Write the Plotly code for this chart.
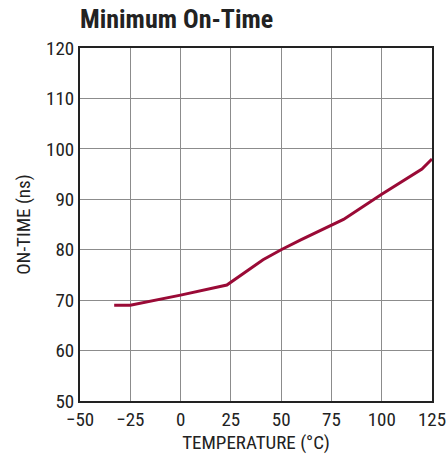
import plotly.graph_objects as go

# Minimum on-time vs temperature
temperature = [-33, -25, 0, 23, 41, 50, 60, 81, 100, 120, 125]
on_time = [69, 69, 71, 73, 78, 80, 82, 86, 91, 96, 98]

x_ticks = [-50, -25, 0, 25, 50, 75, 100, 125]
x_labels = ["\u221250", "\u221225", "0", "25", "50", "75", "100", "125"]
y_ticks = [50, 60, 70, 80, 90, 100, 110, 120]

FONT = "Liberation Sans Narrow, Arial Narrow, Roboto Condensed, sans-serif"

W, H = 446, 464

fig = go.Figure()
fig.add_trace(go.Scatter(
    x=temperature,
    y=on_time,
    mode="lines",
    line=dict(color="#9a0a36", width=3),
    showlegend=False,
    cliponaxis=False,
))

axis_common = dict(
    showgrid=True,
    gridcolor="#8c8c8c",
    gridwidth=1,
    showline=True,
    linecolor="#222222",
    linewidth=2,
    mirror=True,
    zeroline=False,
    ticks="",
    automargin=False,
    ticklabeloverflow="allow",
    tickfont=dict(family=FONT, size=19, color="#222222"),
)

fig.update_xaxes(
    range=[-50, 125],
    tickvals=x_ticks,
    ticktext=x_labels,
    title=dict(text="TEMPERATURE (\u00b0C)", font=dict(family=FONT, size=19, color="#222222"), standoff=6),
    **axis_common,
)
fig.update_yaxes(
    range=[50, 120],
    tickvals=y_ticks,
    title=dict(text="ON-TIME (ns)", font=dict(family=FONT, size=19, color="#222222"), standoff=10),
    **axis_common,
)

fig.update_layout(
    width=W,
    height=H,
    margin=dict(l=80, r=14, t=48, b=63),
    plot_bgcolor="white",
    paper_bgcolor="white",
    title=dict(
        text="<b>Minimum On-Time</b>",
        font=dict(family=FONT, size=26, color="#222222"),
        x=80 / W,
        xanchor="left",
        y=1 - 19 / H,
        yanchor="middle",
    ),
)

# drop the default 8px body margin so the figure sits at the page corner
fig.write_html(
    "out.html",
    config={"displayModeBar": False},
    post_script="document.body.style.margin='0';",
)
